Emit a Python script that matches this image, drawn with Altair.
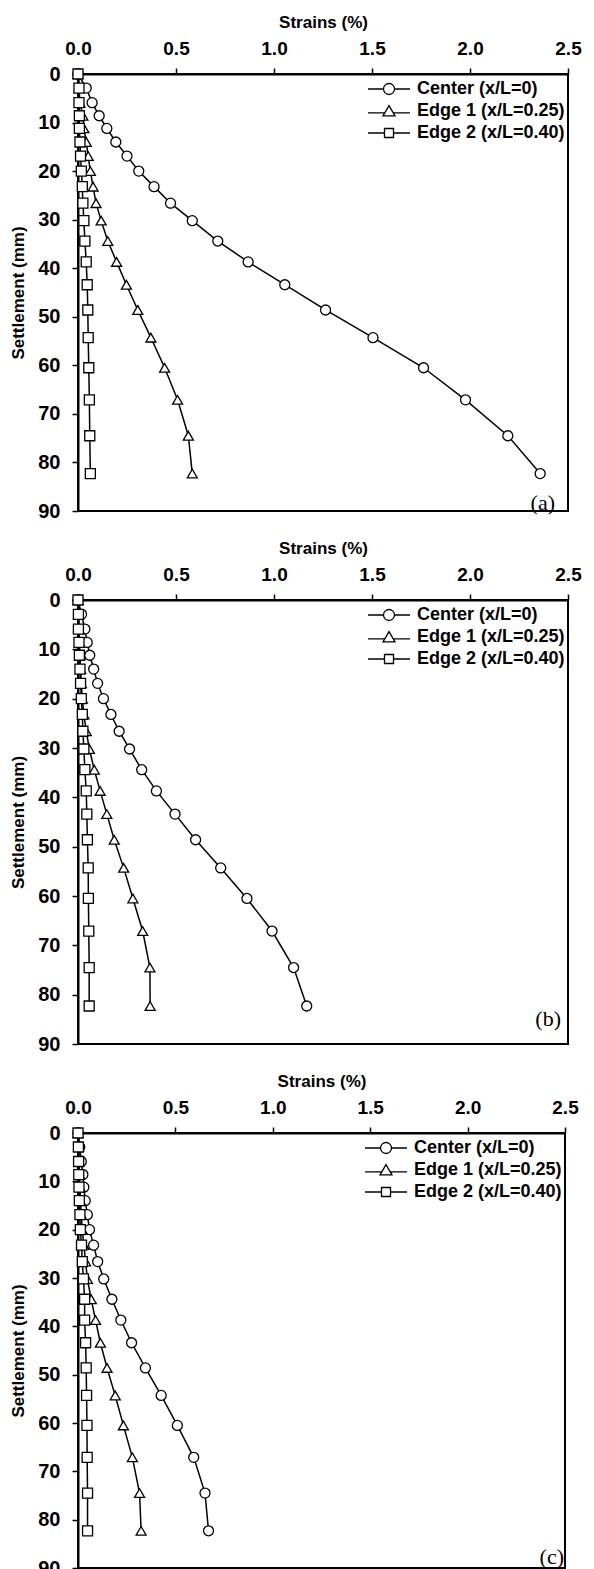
import altair as alt
import pandas as pd

series_names = ["Center (x/L=0)", "Edge 1 (x/L=0.25)", "Edge 2 (x/L=0.40)"]
x_ticks = [0.0, 0.5, 1.0, 1.5, 2.0, 2.5]
y_ticks = [0, 10, 20, 30, 40, 50, 60, 70, 80, 90]

settlement = [0, 2.9, 5.9, 8.6, 11.2, 14.0, 16.9, 20.0, 23.2, 26.6, 30.2,
              34.4, 38.7, 43.4, 48.6, 54.3, 60.5, 67.1, 74.5, 82.3]

a_center = [0, 0.042, 0.072, 0.108, 0.147, 0.193, 0.25, 0.31, 0.388, 0.472, 0.583,
            0.713, 0.868, 1.055, 1.263, 1.505, 1.763, 1.977, 2.193, 2.358]
a_edge1 = [0, 0.005, 0.01, 0.025, 0.03, 0.042, 0.052, 0.063, 0.077, 0.092, 0.118,
           0.152, 0.197, 0.247, 0.305, 0.372, 0.442, 0.508, 0.563, 0.583]
a_edge2 = [0, 0.005, 0.005, 0.007, 0.007, 0.01, 0.013, 0.017, 0.022, 0.025, 0.03,
           0.035, 0.042, 0.047, 0.05, 0.052, 0.055, 0.058, 0.06, 0.063]

b_center = [0, 0.018, 0.035, 0.047, 0.06, 0.08, 0.1, 0.13, 0.168, 0.21, 0.263,
            0.325, 0.4, 0.495, 0.6, 0.728, 0.862, 0.99, 1.1, 1.167]
b_edge1 = [0, 0.003, 0.005, 0.007, 0.01, 0.013, 0.017, 0.022, 0.03, 0.042, 0.058,
           0.083, 0.113, 0.147, 0.185, 0.233, 0.28, 0.33, 0.367, 0.368]
b_edge2 = [0, 0.002, 0.002, 0.005, 0.007, 0.01, 0.013, 0.017, 0.022, 0.025, 0.03,
           0.035, 0.042, 0.045, 0.048, 0.052, 0.053, 0.055, 0.057, 0.057]

c_center = [0, 0.009, 0.017, 0.025, 0.03, 0.037, 0.048, 0.059, 0.08, 0.101, 0.132,
            0.174, 0.22, 0.275, 0.346, 0.427, 0.51, 0.594, 0.652, 0.67]
c_edge1 = [0, 0.003, 0.005, 0.007, 0.01, 0.013, 0.017, 0.022, 0.03, 0.039, 0.048,
           0.068, 0.09, 0.115, 0.149, 0.191, 0.233, 0.279, 0.316, 0.324]
c_edge2 = [0, 0.002, 0.003, 0.004, 0.005, 0.007, 0.01, 0.012, 0.018, 0.022, 0.028,
           0.034, 0.034, 0.039, 0.042, 0.044, 0.046, 0.047, 0.049, 0.049]

panel_labels = ["(a)", "(b)", "(c)"]

# legend symbols: line through a marker
legend_paths = [
    "M-3.5,0 L-0.92,0 M0.92,0 L3.5,0 M-0.92,0 A0.92,0.92 0 1,1 0.92,0 A0.92,0.92 0 1,1 -0.92,0 Z",
    "M-3.5,0.3 L-0.8,0.3 M0.8,0.3 L3.5,0.3 M0,-0.9 L1,0.8 L-1,0.8 Z",
    "M-3.5,0 L-0.75,0 M0.75,0 L3.5,0 M-0.75,-0.75 L0.75,-0.75 L0.75,0.75 L-0.75,0.75 Z",
]

FONT = "Liberation Sans"


def make_df(center, edge1, edge2):
    rows = []
    for name, vals in zip(series_names, [center, edge1, edge2]):
        for s, v in zip(settlement, vals):
            rows.append({"series": name, "key": name, "settlement": s, "strain": v})
    return pd.DataFrame(rows)


def panel(df, label, width, height, t_offset, t_dx, leg_x):
    base = alt.Chart(df)
    x = alt.X("strain:Q",
              scale=alt.Scale(domain=[0, 2.5], nice=False),
              axis=alt.Axis(orient="top", title="Strains (%)", values=x_ticks,
                            format=".1f", labelPadding=10, titlePadding=8,
                            labelFlush=False, labelFontSize=19))
    y = alt.Y("settlement:Q",
              scale=alt.Scale(domain=[0, 90], reverse=True, nice=False),
              axis=alt.Axis(title="Settlement (mm)", values=y_ticks,
                            labelPadding=12, titlePadding=10, labelFlush=False,
                            labelFontSize=20))
    lines = base.mark_line(color="black", strokeWidth=1.5).encode(
        x=x, y=y, detail="series:N", order="settlement:Q")
    pts = base.mark_point(filled=True, fill="white", stroke="black",
                          strokeWidth=1.3, size=100, opacity=1).encode(
        x=x, y=y,
        shape=alt.Shape("series:N",
                        scale=alt.Scale(domain=series_names,
                                        range=["circle", "triangle-up", "square"]),
                        legend=None))
    leg = base.mark_point(filled=False, color="black",
                          strokeWidth=1.3, size=144, opacity=1).encode(
        x=x, y=y,
        shape=alt.Shape("key:N",
                        scale=alt.Scale(domain=series_names, range=legend_paths),
                        legend=alt.Legend(title=None, orient="none",
                                          legendX=leg_x, legendY=6, padding=0,
                                          symbolOpacity=1,
                                          symbolStrokeColor="black",
                                          symbolStrokeWidth=1.3, symbolSize=144,
                                          labelOffset=19, rowPadding=4,
                                          labelFont=FONT, labelFontSize=18,
                                          labelFontWeight="bold",
                                          labelColor="black"))).transform_filter("false")
    return alt.layer(lines, pts, leg).resolve_scale(shape="independent").properties(
        width=width, height=height,
        title=alt.TitleParams(label, orient="bottom", anchor="end", frame="group",
                              font="Liberation Serif", fontSize=22,
                              fontWeight="normal", color="black",
                              offset=t_offset, dx=t_dx))


pa = panel(make_df(a_center, a_edge1, a_edge2), panel_labels[0], 490, 437, -28, -13, 302)
pb = panel(make_df(b_center, b_edge1, b_edge2), panel_labels[1], 490, 444, -45, -7, 302)
pc = panel(make_df(c_center, c_edge1, c_edge2), panel_labels[2], 487, 435, -31, -1, 299)

chart = alt.vconcat(pa, pb, pc, spacing=16).properties(
    padding={"left": 0, "top": 4, "right": 0, "bottom": 0}
).configure_view(stroke="black", strokeWidth=2).configure_axis(
    grid=False, domainColor="black", domainWidth=2, tickColor="black",
    tickWidth=1.5, tickSize=6, labelFont=FONT, labelFontSize=20,
    labelFontWeight="bold", labelColor="black", titleFont=FONT,
    titleFontSize=17, titleFontWeight="bold", titleColor="black")

chart.save("out.html", embed_options={"renderer": "svg", "actions": False})
